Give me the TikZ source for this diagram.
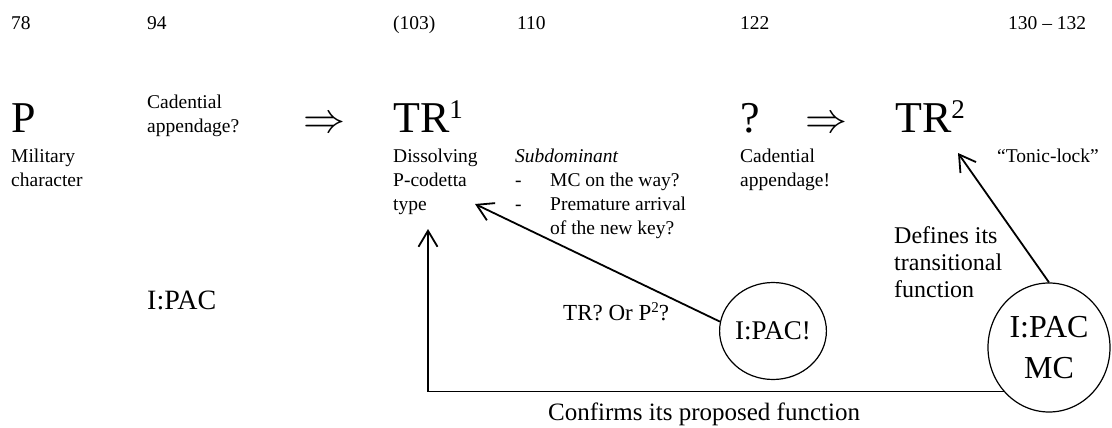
\documentclass[tikz,border=0pt]{standalone}
\usepackage{fontspec}
\usepackage{graphicx}
\setmainfont{Liberation Serif}
\usetikzlibrary{arrows.meta,shapes.geometric}

\tikzset{
  txt/.style={inner sep=0pt, anchor=base west, align=left,
    font=\fontsize{19.5}{24}\selectfont},
  big/.style={inner sep=0pt, anchor=base west,
    font=\fontsize{44}{48}\selectfont},
  mid/.style={inner sep=0pt, anchor=base west, align=left,
    font=\fontsize{24}{27}\selectfont},
  cadence/.style={draw, ellipse, line width=1.2pt, inner sep=0pt, align=center},
  link/.style={line width=1.8pt,
    -{Straight Barb[length=16pt, width=19pt, line width=1.8pt]}},
}
\newcommand{\bigsup}[1]{\raisebox{14pt}{\fontsize{27}{27}\selectfont #1}}
\newcommand{\bigimp}{\scalebox{4.2}{\fontsize{10}{12}\selectfont$\Rightarrow$}}

\begin{document}
\begin{tikzpicture}[x=1pt, y=-1pt]
  \useasboundingbox (0,0) rectangle (1112,428);

  % measure numbers
  \node[txt] (m78)  at (11,30)   {78};
  \node[txt] (m94)  at (147,30)  {94};
  \node[txt] (m103) at (393,30)  {(103)};
  \node[txt] (m110) at (517,30)  {110};
  \node[txt] (m122) at (740,30)  {122};
  \node[txt] (m130) at (1008,30) {130 -- 132};

  % sections (multi-line nodes are placed by their last baseline)
  \node[big] (P)    at (11,132)  {P};
  \node[big] (arA)  at (303,132) {\bigimp};
  \node[big] (TR1)  at (393,132) {TR\bigsup{1}};
  \node[big] (Q)    at (740,132) {?};
  \node[big] (arB)  at (805,132) {\bigimp};
  \node[big] (TR2)  at (895,132) {TR\bigsup{2}};

  % descriptions
  \node[txt] (dMil) at (11,186)  {Military\\character};
  \node[txt] (dCad) at (147,132) {Cadential\\appendage?};
  \node[txt] (dDis) at (393,210) {Dissolving\\P-codetta\\type};
  \node[txt] (dSub) at (515,234) {\textit{Subdominant}\\
    \makebox[35pt][l]{-}MC on the way?\\
    \makebox[35pt][l]{-}Premature arrival\\
    \makebox[35pt][l]{}of the new key?};
  \node[txt] (dApp) at (740,186) {Cadential\\appendage!};
  \node[txt] (dTon) at (997,162) {``Tonic-lock''};

  % cadences
  \node[inner sep=0pt, anchor=base west, font=\fontsize{28}{30}\selectfont]
    (pac1) at (147,309) {I:PAC};
  \node[cadence, minimum width=100pt, minimum height=97pt,
        font=\fontsize{27}{30}\selectfont] (c1) at (773,331) {I:PAC!};
  \node[cadence, minimum width=122pt, minimum height=129pt,
        font=\fontsize{32}{41}\selectfont] (c2) at (1049,347.5) {I:PAC\\MC};

  % arrow targets
  \coordinate (t1) at (475,204);
  \coordinate (t2) at (428,229);
  \coordinate (t3) at (958,153);

  % connectors
  \draw[link] (c1.170) -- (t1);
  \draw[link] (c2.224) -| (t2);
  \draw[link] (c2.north) -- (t3);

  % connector labels
  \node[inner sep=0pt, anchor=base west, font=\fontsize{23}{26}\selectfont]
    (lTR) at (563,320) {TR? Or P\raisebox{8pt}{\fontsize{15}{15}\selectfont 2}?};
  \node[mid] (lDef) at (894,297) {Defines its\\transitional\\function};
  \node[inner sep=0pt, anchor=base west, font=\fontsize{25}{28}\selectfont]
    (lCon) at (548,420) {Confirms its proposed function};
\end{tikzpicture}
\end{document}
